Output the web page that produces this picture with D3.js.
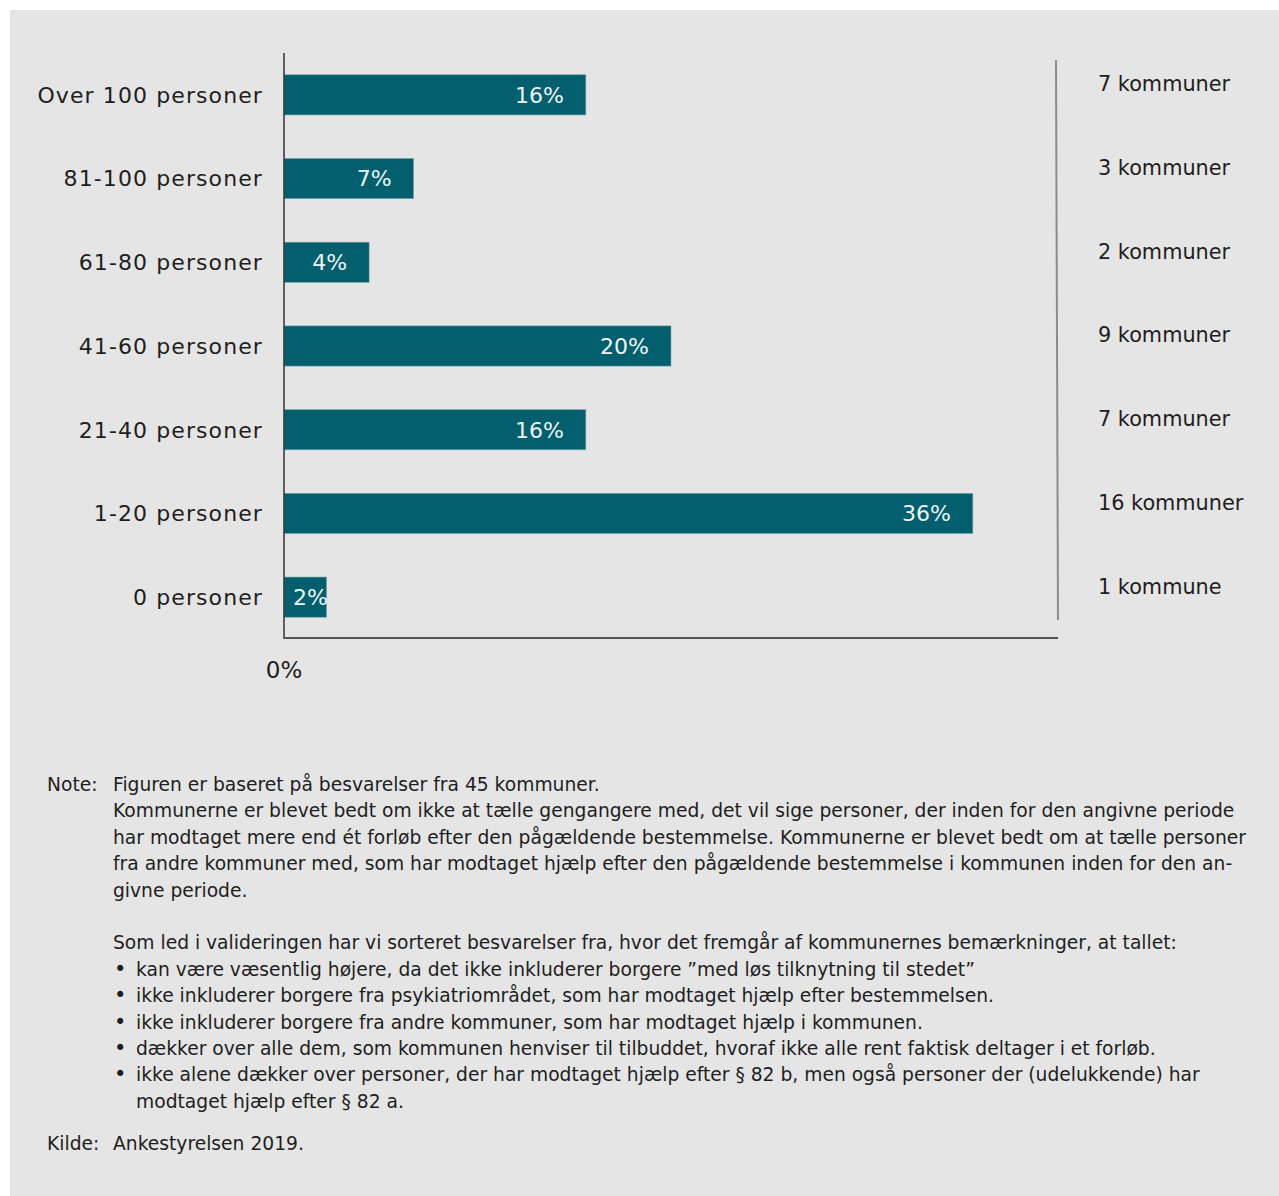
<!DOCTYPE html>
<html>
<head>
<meta charset="utf-8">
<script src="https://cdn.jsdelivr.net/npm/d3@7"></script>
<style>
  html, body { margin: 0; padding: 0; background: #ffffff; }
  svg text { font-family: "DejaVu Sans", Verdana, sans-serif; }
</style>
</head>
<body>
<div id="chart"></div>
<script>
// ------ DATA ------

const categories = ['Over 100 personer', '81-100 personer', '61-80 personer',
  '41-60 personer', '21-40 personer', '1-20 personer', '0 personer'];

// share of the 45 municipalities (%)
const shares = [15.6, 6.7, 4.4, 20.0, 15.6, 35.6, 2.2];

// printed value labels
const shareLabels = ['16%', '7%', '4%', '20%', '16%', '36%', '2%'];

const municipalityLabels = ['7 kommuner', '3 kommuner', '2 kommuner', '9 kommuner',
  '7 kommuner', '16 kommuner', '1 kommune'];

const xTicks = [0];

const noteLines = [
  'Figuren er baseret på besvarelser fra 45 kommuner.',
  'Kommunerne er blevet bedt om ikke at tælle gengangere med, det vil sige personer, der inden for den angivne periode',
  'har modtaget mere end ét forløb efter den pågældende bestemmelse. Kommunerne er blevet bedt om at tælle personer',
  'fra andre kommuner med, som har modtaget hjælp efter den pågældende bestemmelse i kommunen inden for den an-',
  'givne periode.',
  '',
  'Som led i valideringen har vi sorteret besvarelser fra, hvor det fremgår af kommunernes bemærkninger, at tallet:'
];

const bulletLines = [
  ['kan være væsentlig højere, da det ikke inkluderer borgere ”med løs tilknytning til stedet”'],
  ['ikke inkluderer borgere fra psykiatriområdet, som har modtaget hjælp efter bestemmelsen.'],
  ['ikke inkluderer borgere fra andre kommuner, som har modtaget hjælp i kommunen.'],
  ['dækker over alle dem, som kommunen henviser til tilbuddet, hvoraf ikke alle rent faktisk deltager i et forløb.'],
  ['ikke alene dækker over personer, der har modtaget hjælp efter § 82 b, men også personer der (udelukkende) har',
   'modtaget hjælp efter § 82 a.']
];

const sourceText = 'Ankestyrelsen 2019.';

// ------ LAYOUT ------

const W = 1279, H = 1196;
const BAR_COLOR = '#035f6e';
const TEXT_COLOR = '#1e1e1e';

const svg = d3.select('#chart').append('svg')
  .attr('width', W)
  .attr('height', H);

// grey panel behind everything
svg.append('rect')
  .attr('x', 10).attr('y', 10)
  .attr('width', W - 10).attr('height', H - 10)
  .attr('fill', '#e5e5e5');

// scales
const x = d3.scaleLinear().domain([0, 40]).range([284, 1058]);
const y = d3.scaleBand().domain(categories).range([53, 639]).paddingInner(0.52).paddingOuter(0.26);

// bars
svg.selectAll('.bar')
  .data(categories)
  .join('rect')
    .attr('class', 'bar')
    .attr('x', x(0))
    .attr('y', d => y(d))
    .attr('width', (d, i) => x(shares[i]) - x(0))
    .attr('height', y.bandwidth())
    .attr('fill', BAR_COLOR)
    .attr('stroke', '#7fa7ad')
    .attr('stroke-width', 0.6);

// value labels inside bar ends
svg.selectAll('.val')
  .data(categories)
  .join('text')
    .attr('class', 'val')
    .attr('x', (d, i) => {
      const end = x(shares[i]) - 22;
      return Math.max(end, x(0) + 44);
    })
    .attr('y', d => y(d) + y.bandwidth() / 2)
    .attr('dy', '0.36em')
    .attr('text-anchor', 'end')
    .attr('fill', '#eef4f4')
    .style('font-size', '22px')
    .text((d, i) => shareLabels[i]);

// category labels
svg.selectAll('.cat')
  .data(categories)
  .join('text')
    .attr('class', 'cat')
    .attr('x', 263)
    .attr('y', d => y(d) + y.bandwidth() / 2)
    .attr('dy', '0.36em')
    .attr('text-anchor', 'end')
    .attr('fill', TEXT_COLOR)
    .style('font-size', '22px')
    .style('letter-spacing', '1.1px')
    .text(d => d);

// y axis line
svg.append('line')
  .attr('x1', x(0)).attr('x2', x(0))
  .attr('y1', 53).attr('y2', 639)
  .attr('stroke', '#333').attr('stroke-width', 1.5);

// x axis line
svg.append('line')
  .attr('x1', x(0)).attr('x2', x(40))
  .attr('y1', 638).attr('y2', 638)
  .attr('stroke', '#555').attr('stroke-width', 2);

// x tick labels
svg.selectAll('.xtick')
  .data(xTicks)
  .join('text')
    .attr('class', 'xtick')
    .attr('x', d => x(d))
    .attr('y', 670)
    .attr('dy', '0.36em')
    .attr('text-anchor', 'middle')
    .attr('fill', TEXT_COLOR)
    .style('font-size', '23px')
    .text(d => d + '%');

// right divider
svg.append('line')
  .attr('x1', 1056).attr('x2', 1058)
  .attr('y1', 60).attr('y2', 620)
  .attr('stroke', '#8c8c8c').attr('stroke-width', 2);

// municipality counts
svg.selectAll('.muni')
  .data(categories)
  .join('text')
    .attr('class', 'muni')
    .attr('x', 1098)
    .attr('y', d => y(d) + y.bandwidth() / 2 - 11)
    .attr('dy', '0.36em')
    .attr('fill', TEXT_COLOR)
    .style('font-size', '20.8px')
    .text((d, i) => municipalityLabels[i]);

// ------ NOTES ------

const noteSize = '18.7px';
const lineH = 26.4;
const noteX = 113, labelX = 47;
let ly = 791;

svg.append('text')
  .attr('x', labelX).attr('y', ly)
  .attr('fill', TEXT_COLOR).style('font-size', noteSize)
  .text('Note:');

noteLines.forEach(t => {
  if (t) {
    svg.append('text')
      .attr('x', noteX).attr('y', ly)
      .attr('fill', TEXT_COLOR).style('font-size', noteSize)
      .text(t);
  }
  ly += lineH;
});

bulletLines.forEach(lines => {
  svg.append('text')
    .attr('x', noteX + 1).attr('y', ly)
    .attr('fill', TEXT_COLOR).style('font-size', '21px')
    .text('•');
  lines.forEach(t => {
    svg.append('text')
      .attr('x', 136).attr('y', ly)
      .attr('fill', TEXT_COLOR).style('font-size', noteSize)
      .text(t);
    ly += lineH;
  });
});

ly += 16;
svg.append('text')
  .attr('x', labelX).attr('y', ly)
  .attr('fill', TEXT_COLOR).style('font-size', noteSize)
  .text('Kilde:');
svg.append('text')
  .attr('x', noteX).attr('y', ly)
  .attr('fill', TEXT_COLOR).style('font-size', noteSize)
  .text(sourceText);
</script>
</body>
</html>
